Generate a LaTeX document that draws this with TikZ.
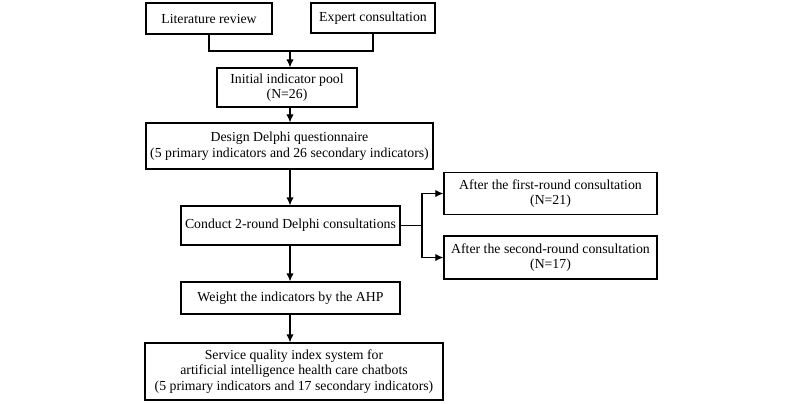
\documentclass[tikz,border=0pt]{standalone}
\usepackage{fontspec}
\setmainfont{Liberation Serif}
\usepackage{tikz}
\usetikzlibrary{arrows.meta}

\tikzset{
  box/.style={draw, line width=0.8pt, inner sep=0pt, align=center,
    font=\fontsize{9.8}{11}\selectfont},
  flow/.style={-{Latex[length=2mm,width=1.8mm]}, line width=0.8pt}
}

\begin{document}
\begin{tikzpicture}[x=0.025cm, y=-0.025cm]

\useasboundingbox (0,0) rectangle (800,403);

% Sources
\node[box, minimum width=3.15cm, minimum height=0.775cm] (lit) at (209,18.5) {Literature review};
\node[box, minimum width=3.1cm, minimum height=0.75cm] (expert) at (373,18) {Expert consultation};

% Main column
\node[box, minimum width=3.5cm, minimum height=0.975cm] (pool) at (287,87.5) {Initial indicator pool\\(N=26)};
\node[box, minimum width=7.175cm, minimum height=1.15cm] (design) at (289.5,146) {Design Delphi questionnaire\\(5 primary indicators and 26 secondary indicators)};
\node[box, minimum width=5.475cm, minimum height=0.975cm] (conduct) at (290.5,225.5) {Conduct 2-round Delphi consultations};
\node[box, minimum width=5.475cm, minimum height=0.8cm] (weight) at (290.5,298) {Weight the indicators by the AHP};
\node[box, minimum width=7.45cm, minimum height=1.425cm] (final) at (294,371.5) {Service quality index system for\\artificial intelligence health care chatbots\\(5 primary indicators and 17 secondary indicators)};

% Consultation rounds
\node[box, minimum width=5.325cm, minimum height=1.05cm] (first) at (550.5,193.5) {After the first-round consultation\\(N=21)};
\node[box, minimum width=5.325cm, minimum height=1.075cm] (second) at (550.5,257.5) {After the second-round consultation\\(N=17)};

% Merge sources
\coordinate (merge) at (290,51);
\draw[line width=0.8pt] (lit.south) |- (merge) -| (expert.south);
\draw[flow] (merge) -- (merge |- pool.north);

% Main flow
\draw[flow] (pool.south -| merge) -- (design.north -| merge);
\draw[flow] (design.south -| merge) -- (conduct.north -| merge);
\draw[flow] (conduct.south -| merge) -- (weight.north -| merge);
\draw[flow] (weight.south -| merge) -- (final.north -| merge);

% Split to rounds
\coordinate (split) at (422,225.5);
\draw[line width=0.8pt] (conduct.east) -- (split);
\draw[flow] (split) |- (first.west);
\draw[flow] (split) |- (second.west);

\end{tikzpicture}
\end{document}
